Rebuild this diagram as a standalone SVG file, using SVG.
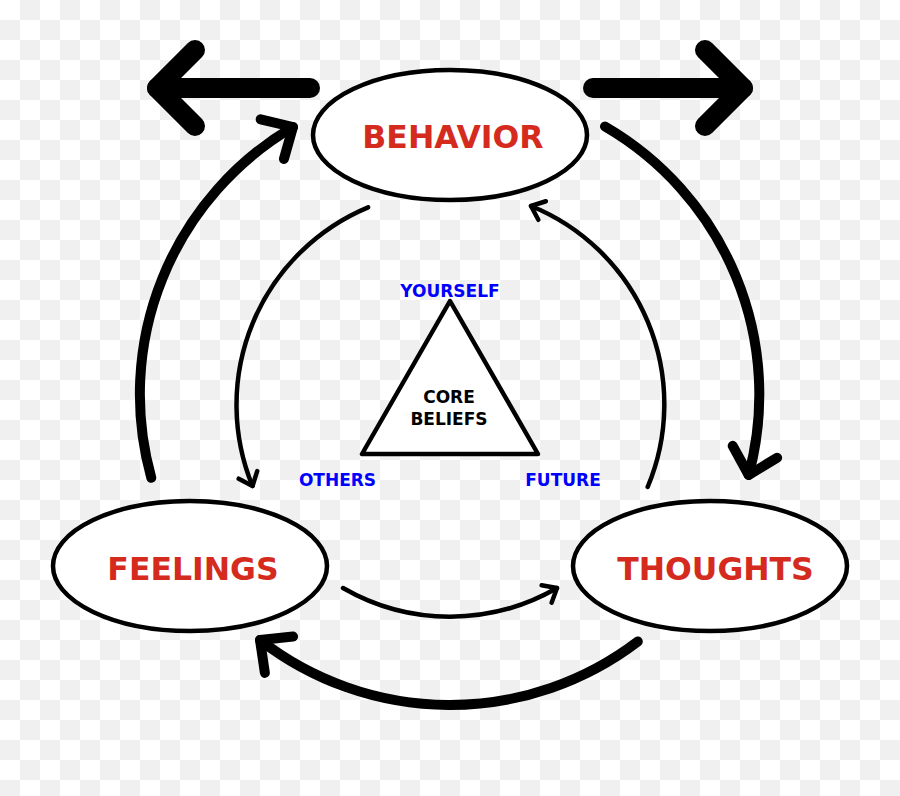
<svg xmlns="http://www.w3.org/2000/svg" width="900" height="796" viewBox="0 0 900 796">
<defs>
<pattern id="checker" width="40" height="40" patternUnits="userSpaceOnUse">
<rect width="40" height="40" fill="#ffffff"/>
<rect x="20" y="0" width="20" height="20" fill="#f0f0f0"/>
<rect x="0" y="20" width="20" height="20" fill="#f0f0f0"/>
</pattern>
<marker id="headBig" markerUnits="userSpaceOnUse" orient="auto" refX="0" refY="0" markerWidth="1" markerHeight="1" overflow="visible">
<path d="M-38,-38 L0,0 L-38,38" fill="none" stroke="#000" stroke-width="20" stroke-linecap="round" stroke-linejoin="round"/>
</marker>
<marker id="headThick" markerUnits="userSpaceOnUse" orient="auto" refX="0" refY="0" markerWidth="1" markerHeight="1" overflow="visible">
<path d="M-24,-23 L0,0 L-24,23" fill="none" stroke="#000" stroke-width="10" stroke-linecap="round" stroke-linejoin="round"/>
</marker>
<marker id="headThin" markerUnits="userSpaceOnUse" orient="auto" refX="0" refY="0" markerWidth="1" markerHeight="1" overflow="visible">
<path d="M-12,-10 L0,0 L-12,10" fill="none" stroke="#000" stroke-width="4.5" stroke-linecap="round" stroke-linejoin="round"/>
</marker>
</defs>
<style>
.big{fill:none;stroke:#000;stroke-width:20;stroke-linecap:round;marker-end:url(#headBig)}
.thick{fill:none;stroke:#000;stroke-width:10;stroke-linecap:round;marker-end:url(#headThick)}
.thin{fill:none;stroke:#000;stroke-width:4.5;stroke-linecap:round;marker-end:url(#headThin)}
.node{fill:#fff;stroke:#000;stroke-width:4.5}
.title{font-family:"DejaVu Sans",sans-serif;font-weight:bold;font-size:31.5px;fill:#d52b1e;text-anchor:middle}
.core{font-family:"DejaVu Sans",sans-serif;font-weight:bold;font-size:17px;fill:#000;text-anchor:middle}
.lbl{font-family:"DejaVu Sans",sans-serif;font-weight:bold;font-size:17px;fill:#0000ff;text-anchor:middle}
</style>
<rect width="900" height="796" fill="url(#checker)"/>

<g id="connectors">
<path class="big" d="M310,88 L157,88"/>
<path class="big" d="M593,88 L743,88"/>
<path class="thick" d="M151.3,477.8 A310,310 0 0 1 293,127"/>
<path class="thick" d="M605,126.5 A310,310 0 0 1 748.7,475"/>
<path class="thick" d="M637.8,641.5 A310,310 0 0 1 260,640"/>
<path class="thin" d="M368.1,207.3 A214,214 0 0 0 252.5,486"/>
<path class="thin" d="M647.7,486.9 A214,214 0 0 0 531,206"/>
<path class="thin" d="M343,588 A214,214 0 0 0 557,588"/>
</g>

<g id="behavior">
<ellipse class="node" cx="450" cy="135" rx="137" ry="65"/>
<text class="title" x="453" y="148">BEHAVIOR</text>
</g>
<g id="feelings">
<ellipse class="node" cx="190" cy="566" rx="137" ry="65"/>
<text class="title" x="193" y="580">FEELINGS</text>
</g>
<g id="thoughts">
<ellipse class="node" cx="710" cy="566" rx="137" ry="65"/>
<text class="title" x="715.5" y="580">THOUGHTS</text>
</g>
<g id="core-beliefs">
<polygon points="450,301 362,454 538,454" fill="#fff" stroke="#000" stroke-width="4.5" stroke-linejoin="round"/>
<text class="core" x="449" y="403">CORE</text>
<text class="core" x="449" y="425">BELIEFS</text>
</g>
<g id="yourself"><text class="lbl" x="450" y="297">YOURSELF</text></g>
<g id="others"><text class="lbl" x="337.5" y="486">OTHERS</text></g>
<g id="future"><text class="lbl" x="563" y="486">FUTURE</text></g>
</svg>
